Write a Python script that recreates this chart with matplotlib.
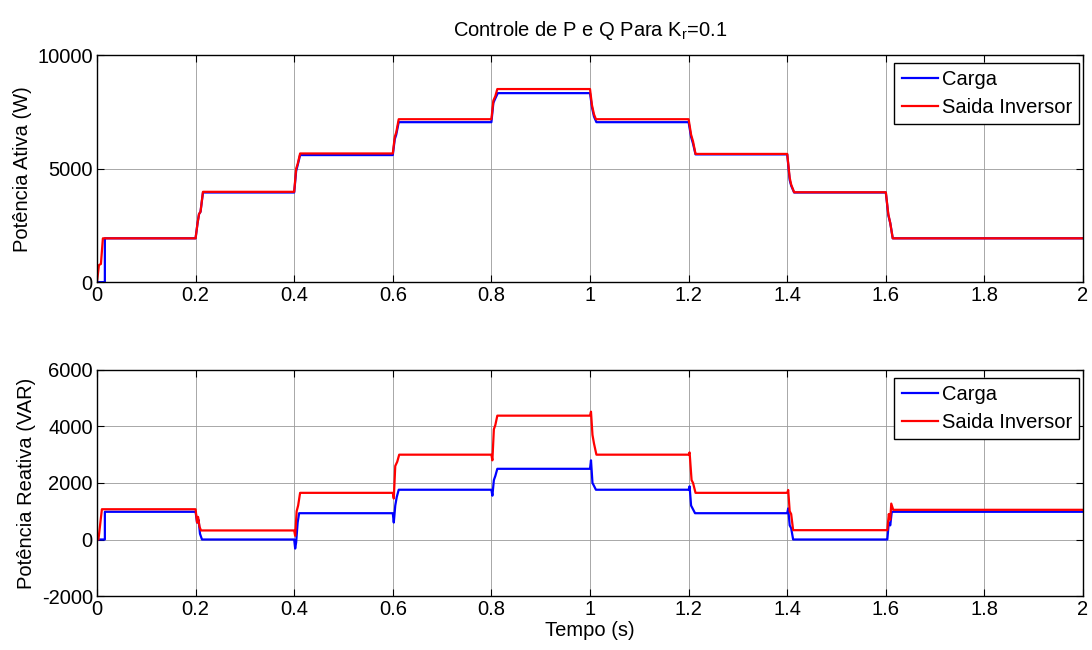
import numpy as np
import matplotlib; matplotlib.use("Agg")
import matplotlib.pyplot as plt

plt.rcParams["font.family"] = ["Liberation Sans", "DejaVu Sans"]
plt.rcParams["font.size"] = 14.5
plt.rcParams["axes.unicode_minus"] = False

# ---- active power P (W): breakpoints (time s, value) ----
p_carga_t = [0, 0.016, 0.016, 0.2, 0.204, 0.207, 0.21, 0.215, 0.4, 0.404, 0.407, 0.412,
             0.6, 0.604, 0.607, 0.612, 0.8, 0.804, 0.808, 0.813, 1.0, 1.004, 1.008, 1.013,
             1.2, 1.205, 1.209, 1.214, 1.4, 1.405, 1.408, 1.414, 1.6, 1.605, 1.609, 1.614, 2.0]
p_carga_v = [0, 0, 1930, 1930, 2600, 3000, 3100, 3950, 3950, 4900, 5150, 5600,
             5600, 6300, 6500, 7050, 7050, 7900, 8100, 8330, 8330, 7700, 7300, 7050,
             7050, 6400, 6100, 5630, 5630, 4500, 4250, 3950, 3950, 2950, 2600, 1930, 1930]
p_inv_t = [0, 0.004, 0.008, 0.012, 0.2, 0.204, 0.207, 0.21, 0.215, 0.4, 0.404, 0.407, 0.412,
           0.6, 0.604, 0.607, 0.612, 0.8, 0.804, 0.808, 0.812, 1.0, 1.004, 1.008, 1.012,
           1.2, 1.205, 1.209, 1.214, 1.4, 1.405, 1.408, 1.414, 1.6, 1.605, 1.609, 1.614, 2.0]
p_inv_v = [0, 750, 800, 1930, 1930, 2600, 3000, 3100, 3980, 3980, 5000, 5200, 5670,
           5670, 6400, 6600, 7180, 7180, 8000, 8200, 8510, 8510, 7800, 7400, 7180,
           7180, 6500, 6200, 5650, 5650, 4600, 4300, 3960, 3960, 3000, 2600, 1930, 1930]

# ---- reactive power Q (VAR): breakpoints (time s, value) ----
q_carga_t = [0, 0.016, 0.016, 0.2, 0.203, 0.206, 0.209, 0.213, 0.4, 0.402, 0.404, 0.407, 0.41,
             0.6, 0.602, 0.605, 0.608, 0.612, 0.8, 0.802, 0.805, 0.808, 0.812,
             1.0, 1.002, 1.005, 1.008, 1.012, 1.2, 1.202, 1.205, 1.208, 1.213,
             1.4, 1.402, 1.405, 1.408, 1.412, 1.6, 1.603, 1.606, 1.609, 1.612, 2.0]
q_carga_v = [0, 0, 980, 980, 600, 700, 200, 0, 0, -320, -100, 600, 930,
             930, 600, 1200, 1500, 1760, 1760, 1550, 2100, 2250, 2500,
             2500, 2800, 2000, 1900, 1760, 1760, 1880, 1200, 1100, 930,
             930, 1100, 500, 400, 0, 0, 0, 600, 500, 980, 980]
q_inv_t = [0, 0.003, 0.01, 0.2, 0.203, 0.205, 0.208, 0.211, 0.4, 0.402, 0.405, 0.408, 0.412,
           0.6, 0.602, 0.605, 0.609, 0.613, 0.8, 0.802, 0.805, 0.808, 0.812,
           1.0, 1.002, 1.005, 1.008, 1.013, 1.2, 1.202, 1.206, 1.209, 1.214,
           1.4, 1.402, 1.405, 1.408, 1.412, 1.6, 1.603, 1.606, 1.609, 1.611, 1.615, 2.0]
q_inv_v = [0, 0, 1070, 1070, 600, 800, 450, 320, 320, 130, 1000, 1200, 1650,
           1650, 1450, 2600, 2750, 3000, 3000, 2800, 3900, 4050, 4380,
           4380, 4520, 3700, 3400, 3000, 3000, 3080, 2100, 2000, 1650,
           1650, 1750, 1000, 900, 330, 330, 330, 900, 700, 1270, 1050, 1050]

fig = plt.figure(figsize=(10.92, 6.5), dpi=100)
ax1 = fig.add_axes([0.0888, 0.566, 0.903, 0.349])
ax2 = fig.add_axes([0.0888, 0.083, 0.903, 0.348])

def style(ax, ylim, yticks):
    ax.set_xlim(0, 2); ax.set_ylim(*ylim)
    ax.set_xticks(np.arange(0, 2.01, 0.2)); ax.set_xticklabels(["0", "0.2", "0.4", "0.6", "0.8", "1",
                                                                 "1.2", "1.4", "1.6", "1.8", "2"])
    ax.set_yticks(yticks)
    ax.grid(True, color="#9a9a9a", lw=0.6, ls="-")
    ax.set_axisbelow(True)
    ax.tick_params(direction="in", top=True, right=True, length=5, width=0.8, pad=3)
    for s in ax.spines.values(): s.set_linewidth(1.0)

ax1.plot(p_carga_t, p_carga_v, color="#0000ff", lw=1.6, label="Carga")
ax1.plot(p_inv_t, p_inv_v, color="#ff0000", lw=1.6, label="Saida Inversor")
style(ax1, (0, 10000), [0, 5000, 10000])
ax1.set_ylabel("Potência Ativa (W)")
ax1.set_title("Controle de P e Q Para K$_\\mathregular{r}$=0.1", fontsize=14.5, pad=14)

ax2.plot(q_carga_t, q_carga_v, color="#0000ff", lw=1.6, label="Carga")
ax2.plot(q_inv_t, q_inv_v, color="#ff0000", lw=1.6, label="Saida Inversor")
style(ax2, (-2000, 6000), [-2000, 0, 2000, 4000, 6000])
ax2.set_ylabel("Potência Reativa (VAR)")
ax2.set_xlabel("Tempo (s)", labelpad=1)

for ax in (ax1, ax2):
    leg = ax.legend(loc="upper right", bbox_to_anchor=(0.996, 0.965), fancybox=False, framealpha=1,
                    edgecolor="black", handlelength=1.8, handletextpad=0.2, borderpad=0.35,
                    labelspacing=0.45, borderaxespad=0)
    leg.get_frame().set_linewidth(1.0)

fig.savefig("out.png", dpi=100)
